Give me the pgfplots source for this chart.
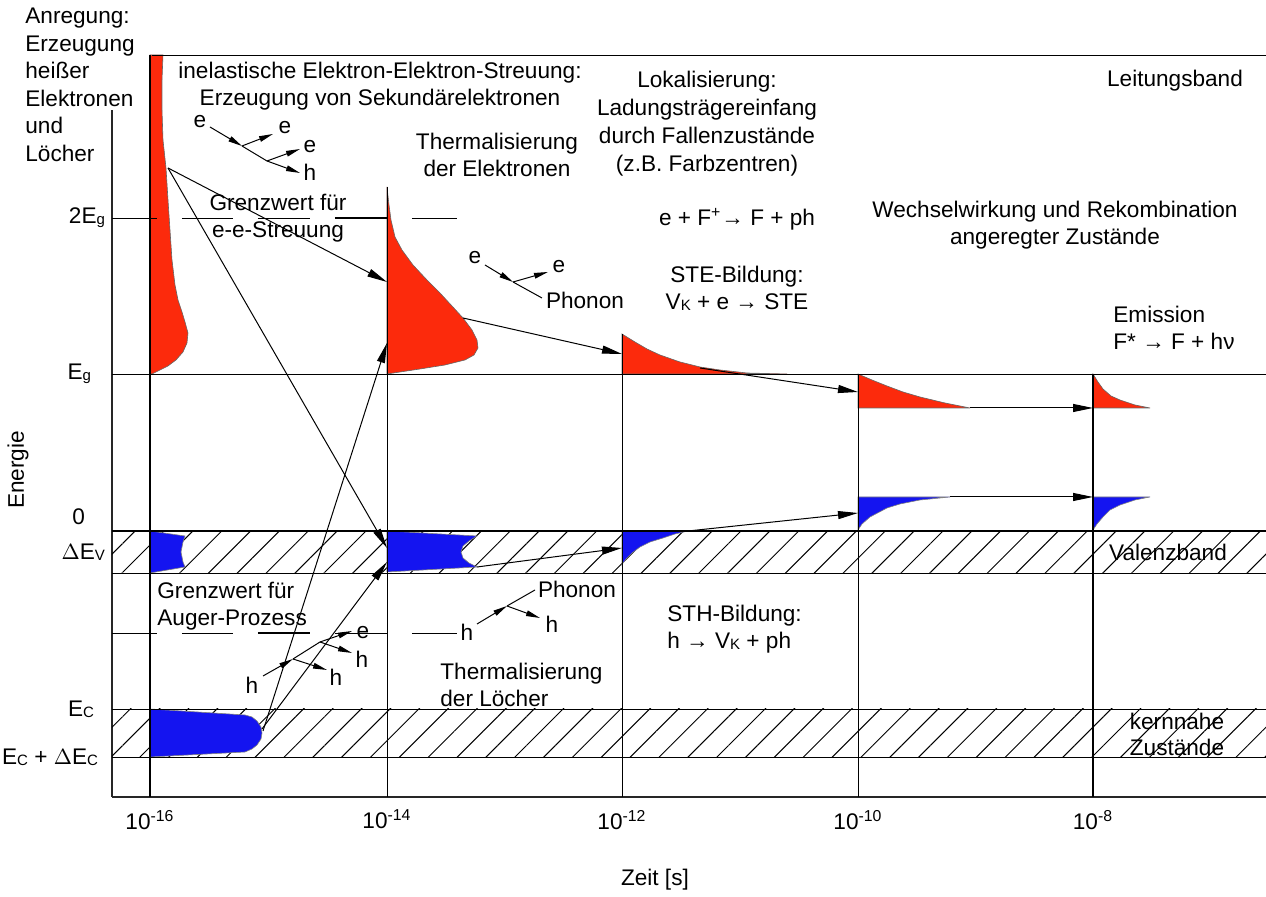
\documentclass[border=0pt]{standalone}
\usepackage{fontspec}
\setmainfont{Liberation Sans}
\usepackage{pgfplots}
\pgfplotsset{compat=1.18}
\usetikzlibrary{patterns.meta,arrows.meta}
\newcommand{\fs}{\fontsize{11.3}{13.75}\selectfont}
\newcommand{\sbs}[1]{\raisebox{-0.4pt}{\fontsize{7.5}{8}\selectfont #1}}
\newcommand{\gap}[1]{\rule{#1}{0pt}}
\definecolor{hred}{RGB}{252,42,12}
\definecolor{hblue}{RGB}{20,20,240}
\begin{document}
\begin{tikzpicture}
\begin{axis}[
  x=0.5pt, y=0.5pt,
  xmin=112, xmax=1266, ymin=100, ymax=787,
  axis x line=bottom, axis y line=left,
  axis line style={-, line width=0.7pt, black!85},
  clip=false,
  major tick length=0pt,
  xtick={150,387,622,858,1093},
  xticklabels={10\textsuperscript{-16},10\textsuperscript{-14},10\textsuperscript{-12},10\textsuperscript{-10},10\textsuperscript{-8}},
  xticklabel style={yshift=-3pt},
  ytick={140,188,345,380,523,679},
  yticklabels={{E\sbs{C} + $\Delta$E\sbs{C}\gap{3.5pt}},{E\sbs{C}\gap{5.5pt}},{$\Delta$E\sbs{V}},{0\gap{10pt}},{E\sbs{g}\gap{7pt}},{2E\sbs{g}}},
  tick label style={font=\fs},
  xlabel={Zeit [s]},
  ylabel={Energie},
  xlabel style={font=\fs, at={(axis description cs:0.4705,-0.1208)}, anchor=center},
  ylabel style={font=\fs, at={(axis description cs:-0.0815,0.476)}, anchor=center},
  cycle list={{black, mark=none, solid, line width=0.6pt}},
  arr/.style={-{Triangle[length=10pt,width=4pt]}, line width=0.5pt, black, mark=none},
  marr/.style={-{Triangle[length=7pt,width=2.8pt]}, line width=0.5pt, black, mark=none},
  ln/.style={line width=0.5pt, black, mark=none},
  shp/.style={line width=0.3pt, mark=none},
]
\coordinate (bl) at (axis cs:0,0);
\coordinate (tr) at (axis cs:1266,897);

% hatched bands
\addplot[draw=none, mark=none, pattern={Lines[angle=45,distance=10.2pt,line width=0.5pt]}] coordinates {(112,324)(1266,324)(1266,366)(112,366)} -- cycle;
\addplot[draw=none, mark=none, pattern={Lines[angle=45,distance=10.2pt,line width=0.5pt]}] coordinates {(112,140)(1266,140)(1266,188)(112,188)} -- cycle;

% red distributions (conduction band electrons)
\addplot[shp, fill=hred, draw=black!60] coordinates {
 (150,842)(163,842)(162,817)(162,787)(163,757)(166,729)(168,697)(170,667)(172,637)(175,612)(178,597)(182,585)(185,575)(188,564)(187,554)(183,545)(176,537)(168,531)(160,527)(152,523)(150,523)} -- cycle;
\addplot[shp, fill=hred, draw=black!60] coordinates {
 (387,710)(389,692)(391,677)(395,660)(402,647)(413,632)(427,617)(440,604)(452,591)(463,579)(472,567)(477,557)(478,549)(474,542)(465,537)(445,532)(420,528)(400,525)(387,523)} -- cycle;
\addplot[shp, fill=hred, draw=black!60] coordinates {
 (622,563)(635,555)(647,548)(660,542)(680,535)(700,530)(720,527)(747,524)(787,523)(622,523)} -- cycle;
\addplot[shp, fill=hred, draw=black!60] coordinates {
 (858,523)(872,517)(887,511)(903,505)(920,500)(945,494)(970,489)(858,489)} -- cycle;
\addplot[shp, fill=hred, draw=black!60] coordinates {
 (1093,523)(1098,515)(1103,508)(1111,501)(1120,497)(1135,492)(1150,489)(1093,489)} -- cycle;

% blue distributions (holes)
\addplot[shp, fill=hblue, draw=black!50] coordinates {
 (150,366)(185,361)(183,355)(182,350)(181,345)(182,340)(183,335)(185,330)(150,324)} -- cycle;
\addplot[shp, fill=hblue, draw=black!50] coordinates {
 (387,366)(477,361)(469,356)(463,351)(461,345)(463,339)(469,334)(477,330)(387,325)} -- cycle;
\addplot[shp, fill=hblue, draw=black!50] coordinates {
 (622,366)(688,366)(675,363)(663,359)(650,355)(640,350)(632,344)(627,339)(623,334)(622,332)} -- cycle;
\addplot[shp, fill=hblue, draw=black!50] coordinates {
 (858,400)(950,400)(920,397)(900,393)(887,389)(870,380)(862,373)(858,367)} -- cycle;
\addplot[shp, fill=hblue, draw=black!50] coordinates {
 (1093,400)(1150,400)(1135,397)(1120,392)(1110,387)(1103,380)(1097,373)(1093,367)} -- cycle;
\addplot[shp, fill=hblue, draw=black!50] coordinates {
 (150,188)(245,182)(252,180)(257,176)(261,170)(262,164)(261,158)(257,152)(252,148)(245,145)(150,140)} -- cycle;

% frame and level lines
\addplot coordinates {(152,842)(1266,842)};
\addplot coordinates {(112,523)(1266,523)};
\addplot coordinates {(112,366)(1266,366)};
\addplot coordinates {(112,324)(1266,324)};
\addplot coordinates {(112,188)(1266,188)};
\addplot coordinates {(112,140)(1266,140)};
\addplot coordinates {(150,842)(150,100)};
\addplot coordinates {(387,710)(387,100)};
\addplot coordinates {(622,563)(622,100)};
\addplot coordinates {(858,523)(858,100)};
\addplot coordinates {(1093,523)(1093,100)};

% threshold lines (broken)
\addplot coordinates {(112,679)(157,679)};
\addplot coordinates {(182,679)(233,679)};
\addplot coordinates {(258,679)(310,679)};
\addplot coordinates {(335,679)(387,679)};
\addplot coordinates {(412,679)(457,679)};
\addplot coordinates {(112,264)(157,264)};
\addplot coordinates {(182,264)(233,264)};
\addplot coordinates {(258,264)(310,264)};
\addplot coordinates {(335,264)(387,264)};
\addplot coordinates {(412,264)(457,264)};

% transfer arrows
\addplot[arr] coordinates {(168,729)(387,615)};
\addplot[arr] coordinates {(168,729)(387,349)};
\addplot[arr] coordinates {(263,166)(387,554)};
\addplot[arr] coordinates {(262,168)(387,335)};
\addplot[arr] coordinates {(463,579)(622,543)};
\addplot[arr] coordinates {(700,529)(858,505)};
\addplot[arr] coordinates {(970,489)(1093,489)};
\addplot[arr] coordinates {(477,330)(622,349)};
\addplot[arr] coordinates {(688,366)(858,384)};
\addplot[arr] coordinates {(950,400)(1093,400)};

% mini diagram: e-e scattering
\addplot[marr] coordinates {(210,770)(242,751)};
\addplot[ln] coordinates {(242,751)(267,736)};
\addplot[marr] coordinates {(242,751)(273,763)};
\addplot[marr] coordinates {(267,736)(300,748)};
\addplot[marr] coordinates {(267,736)(300,724)};
% mini diagram: e-phonon
\addplot[marr] coordinates {(485,632)(513,615)};
\addplot[ln] coordinates {(513,615)(542,599)};
\addplot[marr] coordinates {(513,615)(548,625)};
% mini diagram: h-phonon
\addplot[marr] coordinates {(477,273)(507,291)};
\addplot[ln] coordinates {(507,291)(535,307)};
\addplot[marr] coordinates {(507,291)(540,279)};
% mini diagram: Auger
\addplot[marr] coordinates {(263,221)(293,238)};
\addplot[ln] coordinates {(293,238)(320,255)};
\addplot[marr] coordinates {(320,255)(352,266)};
\addplot[marr] coordinates {(293,238)(327,227)};
\addplot[marr] coordinates {(320,255)(352,244)};

% texts
\begin{scope}[every node/.style={font=\fs, inner sep=0pt}]
\node[anchor=north west, align=left] at (axis cs:25,889) {Anregung:\\Erzeugung\\heißer\\Elektronen\\und\\Löcher};
\node[align=center] at (axis cs:380,811) {inelastische Elektron-Elektron-Streuung:\\Erzeugung von Sekundärelektronen};
\node[align=center] at (axis cs:497,742) {Thermalisierung\\der Elektronen};
\node[align=center, font=\fontsize{11.3}{14}\selectfont] at (axis cs:707,773) {Lokalisierung:\\Ladungsträgereinfang\\durch Fallenzustände\\(z.B. Farbzentren)};
\node at (axis cs:1175,816) {Leitungsband};
\node[align=center] at (axis cs:278,679) {Grenzwert für\\e-e-Streuung};
\node at (axis cs:737,678) {e + F\textsuperscript{+}→ F + ph};
\node[align=center] at (axis cs:1055,672) {Wechselwirkung und Rekombination\\angeregter Zustände};
\node[align=center] at (axis cs:737,609) {STE-Bildung:\\V\sbs{K} + e → STE};
\node[anchor=west, align=left] at (axis cs:1113,569) {Emission\\F* → F + hν};
\node at (axis cs:1168,345) {Valenzband};
\node[anchor=west, align=left] at (axis cs:157,291) {Grenzwert für\\Auger-Prozess};
\node[anchor=west, align=left] at (axis cs:667,268) {STH-Bildung:\\h → V\sbs{K} + ph};
\node[anchor=west, align=left] at (axis cs:440,212) {Thermalisierung\\der Löcher};
\node[align=center, font=\fontsize{11.3}{13}\selectfont] at (axis cs:1177,163) {kernnahe\\Zustände};
% mini diagram labels
\node at (axis cs:200,775) {e};
\node at (axis cs:285,769) {e};
\node at (axis cs:310,750) {e};
\node at (axis cs:310,725) {h};
\node at (axis cs:475,639) {e};
\node at (axis cs:559,630) {e};
\node at (axis cs:585,597) {Phonon};
\node at (axis cs:467,265) {h};
\node at (axis cs:577,308) {Phonon};
\node at (axis cs:552,273) {h};
\node at (axis cs:252,212) {h};
\node at (axis cs:363,264) {e};
\node at (axis cs:336,220) {h};
\node at (axis cs:362,238) {h};
\end{scope}
\end{axis}
\pgfresetboundingbox
\path[use as bounding box] (bl) rectangle (tr);
\end{tikzpicture}
\end{document}
